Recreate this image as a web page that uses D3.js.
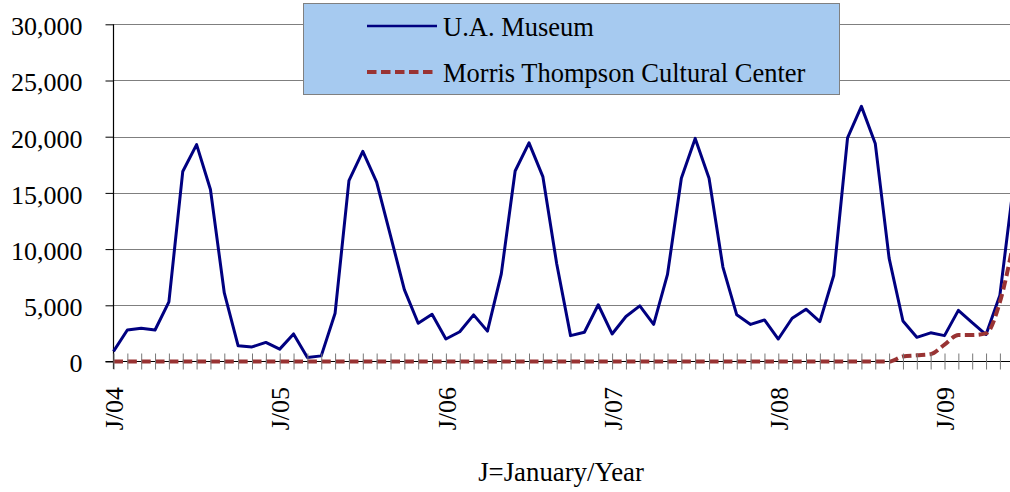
<!DOCTYPE html>
<html>
<head>
<meta charset="utf-8">
<script src="https://cdn.jsdelivr.net/npm/d3@7"></script>
<style>
  html, body { margin: 0; padding: 0; background: #fff; }
  svg { display: block; font-family: "Liberation Serif", "Times New Roman", serif; }
</style>
</head>
<body>
<svg id="chart" width="1010" height="492"></svg>
<script>
// ---- Data ----
const months = [
  "Jan-04","Feb-04","Mar-04","Apr-04","May-04","Jun-04","Jul-04","Aug-04","Sep-04","Oct-04","Nov-04","Dec-04",
  "Jan-05","Feb-05","Mar-05","Apr-05","May-05","Jun-05","Jul-05","Aug-05","Sep-05","Oct-05","Nov-05","Dec-05",
  "Jan-06","Feb-06","Mar-06","Apr-06","May-06","Jun-06","Jul-06","Aug-06","Sep-06","Oct-06","Nov-06","Dec-06",
  "Jan-07","Feb-07","Mar-07","Apr-07","May-07","Jun-07","Jul-07","Aug-07","Sep-07","Oct-07","Nov-07","Dec-07",
  "Jan-08","Feb-08","Mar-08","Apr-08","May-08","Jun-08","Jul-08","Aug-08","Sep-08","Oct-08","Nov-08","Dec-08",
  "Jan-09","Feb-09","Mar-09","Apr-09","May-09","Jun-09"
];
const uaMuseum = [
  900, 2800, 2950, 2800, 5300, 16900, 19300, 15300, 6100, 1400, 1300, 1700,
  1100, 2450, 350, 500, 4300, 16100, 18700, 15950, 11200, 6400, 3400, 4200,
  2000, 2650, 4150, 2700, 7800, 16950, 19450, 16450, 8700, 2300, 2600, 5050,
  2450, 4000, 4950, 3300, 7750, 16300, 19850, 16300, 8400, 4150, 3300, 3700,
  2000, 3850, 4650, 3550, 7650, 19900, 22700, 19400, 9200, 3600, 2150, 2550,
  2300, 4550, 3450, 2400, 5900, 15900
];
const morrisThompson = [
  0, 0, 0, 0, 0, 0, 0, 0, 0, 0, 0, 0,
  0, 0, 0, 0, 0, 0, 0, 0, 0, 0, 0, 0,
  0, 0, 0, 0, 0, 0, 0, 0, 0, 0, 0, 0,
  0, 0, 0, 0, 0, 0, 0, 0, 0, 0, 0, 0,
  0, 0, 0, 0, 0, 0, 0, 0, 0, 450, 550, 650,
  1500, 2350, 2350, 2500, 5300, 10700
];
const yTicks = [0, 5000, 10000, 15000, 20000, 25000, 30000];
const xTickLabels = {"Jan-04": "J/04", "Jan-05": "J/05", "Jan-06": "J/06", "Jan-07": "J/07", "Jan-08": "J/08", "Jan-09": "J/09"};
const seriesNames = ["U.A. Museum", "Morris Thompson Cultural Center"];
const xTitle = "J=January/Year";

// ---- Layout ----
const svg = d3.select("#chart");
const left = 113.5, y0 = 361.5, yTop = 24.3, step = 13.85, plotRight = 1010;

const x = d3.scalePoint().domain(months).range([left, left + (months.length - 1) * step]);
const y = d3.scaleLinear().domain([0, 30000]).range([y0, yTop]);

// gridlines
svg.append("g").selectAll("line").data(yTicks.filter(d => d > 0)).join("line")
  .attr("x1", left).attr("x2", plotRight)
  .attr("y1", d => Math.round(y(d)) + 0.5).attr("y2", d => Math.round(y(d)) + 0.5)
  .attr("stroke", "#7f7f7f").attr("stroke-width", 1);

// y axis
const yAxis = d3.axisLeft(y).tickValues(yTicks).tickSize(8).tickFormat(d3.format(","));
const gy = svg.append("g").attr("transform", `translate(${left},0)`).call(yAxis);
gy.select(".domain").remove();
gy.selectAll(".tick line").attr("stroke", "#000");
gy.selectAll(".tick text")
  .attr("x", -31).attr("dy", "0.4em")
  .attr("font-family", "Liberation Serif, Times New Roman, serif")
  .attr("font-size", 26).attr("fill", "#000");

// axis lines
svg.append("line").attr("x1", left).attr("x2", left).attr("y1", yTop).attr("y2", 369)
  .attr("stroke", "#000").attr("stroke-width", 1.2);
svg.append("line").attr("x1", left - 8).attr("x2", plotRight).attr("y1", y0).attr("y2", y0)
  .attr("stroke", "#000").attr("stroke-width", 1.2);

// lines
const lineGen = d3.line().x((d, i) => x(months[i])).y(d => y(d));
svg.append("path").datum(uaMuseum)
  .attr("d", lineGen)
  .attr("fill", "none").attr("stroke", "#000080").attr("stroke-width", 3).attr("stroke-linejoin", "round");

const lineSmooth = d3.line().x((d, i) => x(months[i])).y(d => y(d)).curve(d3.curveMonotoneX);
svg.append("path").datum(morrisThompson)
  .attr("d", lineSmooth)
  .attr("fill", "none").attr("stroke", "#993333").attr("stroke-width", 4)
  .attr("stroke-dasharray", "9.5,4.35");

// x axis ticks & labels
const xAxis = d3.axisBottom(x).tickSize(8).tickFormat(d => xTickLabels[d] || "");
const gx = svg.append("g").attr("transform", `translate(0,${y0})`).call(xAxis);
gx.select(".domain").remove();
gx.selectAll(".tick line").attr("y1", -8).attr("y2", 8).attr("stroke", "#777");
gx.selectAll(".tick text")
  .attr("transform", "rotate(-90)")
  .attr("x", -25.5).attr("y", 0).attr("dy", "0.35em")
  .attr("text-anchor", "end")
  .attr("font-family", "Liberation Serif, Times New Roman, serif")
  .attr("font-size", 26).attr("fill", "#000");

// axis title
svg.append("text").attr("x", 561).attr("y", 481).attr("text-anchor", "middle")
  .attr("font-size", 26.8).attr("fill", "#000").text(xTitle);

// legend
const lg = svg.append("g");
lg.append("rect").attr("x", 303.5).attr("y", 3.5).attr("width", 536).attr("height", 91)
  .attr("fill", "#a6caf0").attr("stroke", "#808080").attr("stroke-width", 1);
lg.append("line").attr("x1", 367).attr("x2", 437).attr("y1", 26).attr("y2", 26)
  .attr("stroke", "#000080").attr("stroke-width", 2.5);
lg.append("line").attr("x1", 367).attr("x2", 437).attr("y1", 72).attr("y2", 72)
  .attr("stroke", "#993333").attr("stroke-width", 4).attr("stroke-dasharray", "9.5,4.5");
lg.append("text").attr("x", 443).attr("y", 35.5).attr("font-size", 26.5).attr("fill", "#000").text(seriesNames[0]);
lg.append("text").attr("x", 443).attr("y", 81.5).attr("font-size", 26.5).attr("fill", "#000").text(seriesNames[1]);
</script>
</body>
</html>
